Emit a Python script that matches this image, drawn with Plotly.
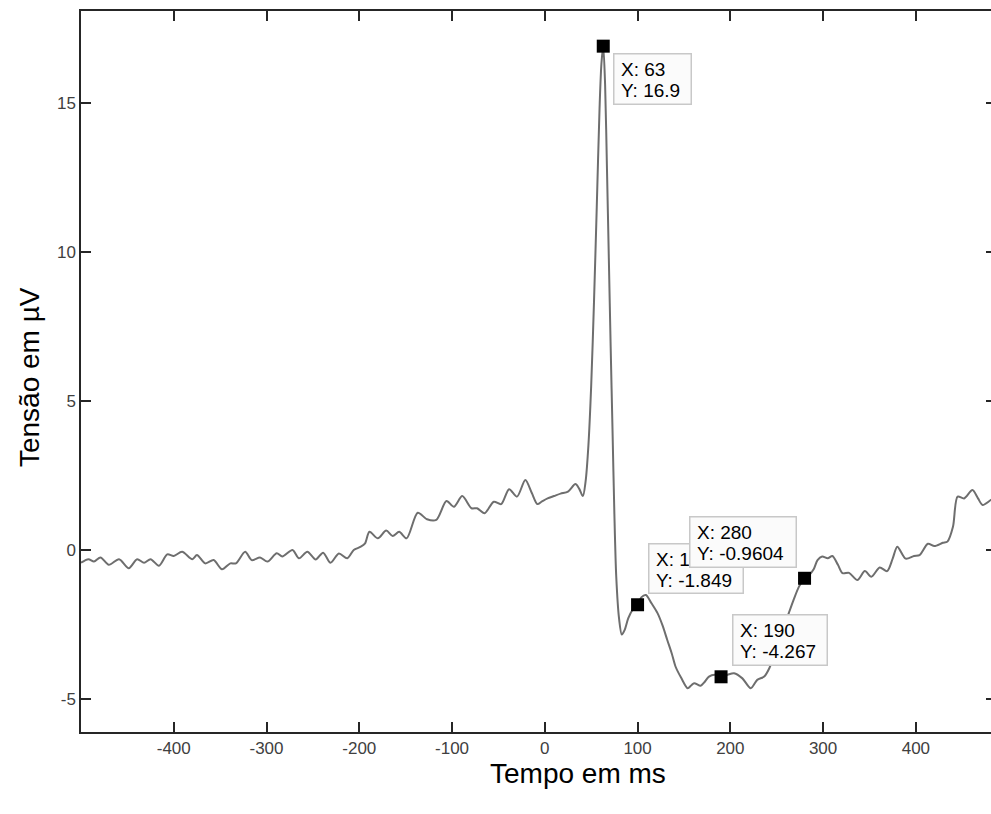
import plotly.graph_objects as go

# Waveform (time in ms, voltage in µV)
tempo_ms = [-500, -492, -486, -479, -470, -459, -448.5, -439.5, -432, -425, -416, -407, -400,
            -391, -380, -375, -366, -357, -348, -339, -333, -323, -316, -307, -299, -289, -283,
            -272, -265, -256, -247, -239, -231, -222, -213, -206, -199, -194, -189, -180, -171,
            -164, -157, -149, -137, -127, -117, -106, -98, -89, -79, -73, -65, -55, -47, -38.5,
            -30, -21, -14, -8, -3, 3, 10, 17, 25, 33, 37, 41, 44, 47, 50, 53, 56, 59, 61, 63, 65,
            67, 69, 71, 73, 75, 77, 80, 83, 86, 90, 95, 100, 104, 109, 115, 121.5, 127, 132, 137,
            141, 147, 154, 158, 161, 168, 172, 177, 183, 190, 197, 204, 213, 222, 229, 236.5, 242,
            250, 256, 263, 268, 274, 280, 285, 290, 294, 299, 305, 310, 316, 321, 328, 337, 345,
            352, 361, 369, 375, 380, 389, 398, 404, 413, 420, 429, 434, 440, 445, 452, 461, 467,
            472, 481, 486]
tensao_uv = [-0.44, -0.32, -0.40, -0.26, -0.51, -0.32, -0.62, -0.32, -0.44, -0.32, -0.54, -0.16, -0.21,
             -0.07, -0.32, -0.18, -0.46, -0.35, -0.66, -0.46, -0.46, -0.07, -0.35, -0.26, -0.40, -0.12, -0.23,
             -0.01, -0.29, -0.07, -0.33, -0.10, -0.44, -0.13, -0.29, -0.01, 0.09, 0.20, 0.60, 0.38, 0.64,
             0.46, 0.60, 0.38, 1.24, 1.02, 1.00, 1.63, 1.44, 1.80, 1.39, 1.39, 1.22, 1.61, 1.53, 2.03,
             1.78, 2.34, 1.90, 1.53, 1.62, 1.72, 1.80, 1.88, 1.95, 2.20, 2.05, 1.80, 2.30, 3.50, 5.50, 8.30,
             11.5, 14.8, 16.3, 16.9, 15.6, 12.8, 9.8, 6.8, 4.0, 1.2, -0.9, -2.3, -2.85, -2.7, -2.3, -2.0,
             -1.849, -1.6, -1.52, -1.8, -2.13, -2.55, -3.03, -3.5, -3.93, -4.3, -4.65, -4.55, -4.48, -4.57,
             -4.45, -4.26, -4.2, -4.267, -4.2, -4.15, -4.32, -4.65, -4.37, -4.26, -3.98, -3.3, -2.75, -2.13,
             -1.7, -1.24, -0.9604, -0.85, -0.65, -0.35, -0.23, -0.29, -0.21, -0.51, -0.79, -0.78, -1.02,
             -0.72, -0.91, -0.60, -0.72, -0.30, 0.10, -0.30, -0.21, -0.18, 0.20, 0.12, 0.23, 0.27, 0.77,
             1.78, 1.72, 2.00, 1.72, 1.50, 1.67, 1.75]

# Data tips
tip_x = [63, 100, 190, 280]
tip_y = [16.9, -1.849, -4.267, -0.9604]
tip_line1 = ["X: 63", "X: 100", "X: 190", "X: 280"]
tip_line2 = ["Y: 16.9", "Y: -1.849", "Y: -4.267", "Y: -0.9604"]

x_ticks = [-400, -300, -200, -100, 0, 100, 200, 300, 400]
x_tick_labels = ["-400", "-300", "-200", "-100", "0", "100", "200", "300", "400"]
y_ticks = [-5, 0, 5, 10, 15]
y_tick_labels = ["-5", "0", "5", "10", "15"]

fig = go.Figure()
fig.add_trace(go.Scatter(x=tempo_ms, y=tensao_uv, mode="lines",
                         line=dict(color="#6e6e6e", width=2, shape="spline", smoothing=0.8),
                         hoverinfo="skip", showlegend=False))
fig.add_trace(go.Scatter(x=tip_x, y=tip_y, mode="markers",
                         marker=dict(symbol="square", size=13, color="black"),
                         hoverinfo="skip", showlegend=False))

# data-tip box geometry relative to its marker, screen pixels (left offset, top offset (down +), w, h)
tip_box = [(10, 7, 79, 52), (10.5, -62, 96, 51), (11, -63, 96, 52), (-116, -62, 108, 52)]
tip_font = dict(family="Arial, Liberation Sans", size=19, color="black")
for xv, yv, l1, l2, (dx, dy, w, h) in zip(tip_x, tip_y, tip_line1, tip_line2, tip_box):
    # box
    fig.add_annotation(x=xv, y=yv, xref="x", yref="y", text=" ", showarrow=False,
                       xanchor="left", yanchor="top", xshift=dx, yshift=-dy,
                       width=w - 3, height=h - 3, borderpad=0,
                       bgcolor="#fbfbfb", bordercolor="#c8c8c8", borderwidth=1.5,
                       font=dict(size=4))
    # two text lines
    for txt, off in ((l1, 16.5), (l2, 37.5)):
        fig.add_annotation(x=xv, y=yv, xref="x", yref="y", text=txt, showarrow=False,
                           xanchor="left", yanchor="middle", xshift=dx + 7, yshift=-(dy + off),
                           align="left", font=tip_font, borderpad=0)

fig.add_annotation(text="Tempo em ms", xref="paper", yref="paper", x=0.5467, y=-0.057,
                   showarrow=False, xanchor="center", yanchor="middle",
                   font=dict(family="Arial, Liberation Sans", size=28, color="black"))
fig.add_annotation(text="Tensão em µV", xref="paper", yref="paper", x=-0.056, y=0.4924,
                   showarrow=False, xanchor="center", yanchor="middle", textangle=-90,
                   font=dict(family="Arial, Liberation Sans", size=28, color="black"))

axis_font = dict(family="Arial, Liberation Sans", size=17, color="#404040")
fig.update_layout(
    width=991, height=814,
    margin=dict(l=81, r=0, t=11, b=82),
    paper_bgcolor="white", plot_bgcolor="white",
    xaxis=dict(range=[-500, 481], tickvals=x_ticks, ticktext=x_tick_labels,
               ticks="inside", ticklen=10, tickwidth=1.5,
               tickcolor="#262626", showline=True, linecolor="#262626", linewidth=1.5,
               mirror="ticks", showgrid=False, zeroline=False, tickfont=axis_font, automargin=False),
    yaxis=dict(range=[-6.12, 18.08], tickvals=y_ticks, ticktext=y_tick_labels,
               ticks="inside", ticklen=10, tickwidth=1.5,
               tickcolor="#262626", showline=True, linecolor="#262626", linewidth=1.5,
               mirror=False, showgrid=False, zeroline=False, tickfont=axis_font, automargin=False),
    yaxis2=dict(range=[-6.12, 18.08], tickvals=y_ticks, overlaying="y", side="right",
                ticks="inside", ticklen=5, tickwidth=1.5, tickcolor="#262626",
                showline=False, showgrid=False, zeroline=False, showticklabels=False,
                automargin=False),
)
fig.add_trace(go.Scatter(x=[None], y=[None], yaxis="y2", showlegend=False, hoverinfo="skip"))

fig.write_html("out.html", config={"displayModeBar": False},
               post_script="document.body.style.margin='0px';document.body.style.overflow='hidden';")
